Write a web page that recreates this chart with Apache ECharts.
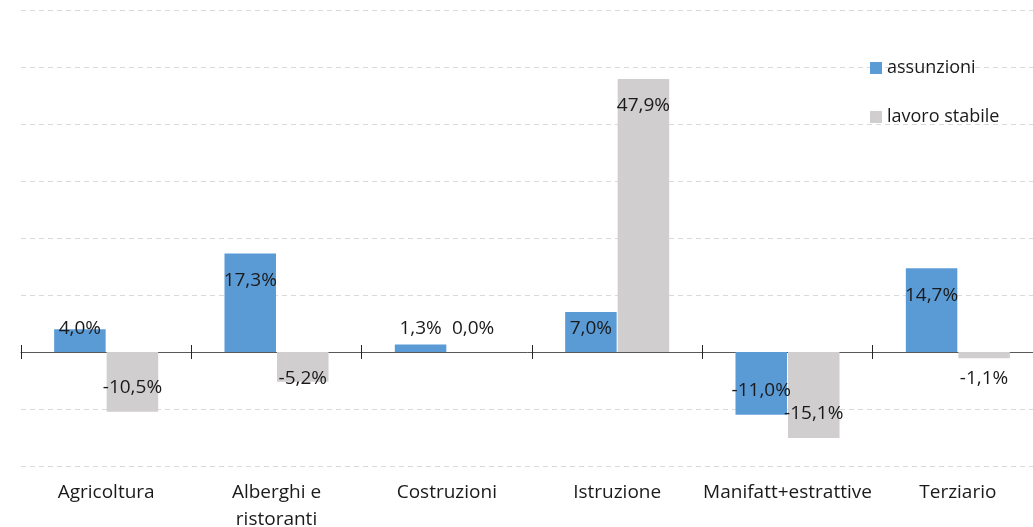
<!DOCTYPE html>
<html>
<head>
<meta charset="utf-8">
<title>assunzioni e lavoro stabile</title>
<script src="https://cdn.jsdelivr.net/npm/echarts@6/dist/echarts.min.js"></script>
<style>
  html, body { margin: 0; padding: 0; background: #ffffff; }
  #chart { width: 1033px; height: 527px; }
</style>
</head>
<body>
<div id="chart"></div>
<script>
// dati
var categories = ['Agricoltura', 'Alberghi e\nristoranti', 'Costruzioni', 'Istruzione', 'Manifatt+estrattive', 'Terziario'];
var assunzioni = [4.0, 17.3, 1.3, 7.0, -11.0, 14.7];
var lavoroStabile = [-10.5, -5.2, 0.0, 47.9, -15.1, -1.1];
var seriesNames = ['assunzioni', 'lavoro stabile'];

var FONT = '"Open Sans", sans-serif';
var TEXT = '#1a1a1a';
var FS = 19;

function fmt(v) {
  return v.toFixed(1).replace('.', ',') + '%';
}

// posizione etichette come in Excel: dentro la fine della barra, ma mai sopra l'asse
function placeLabel(params) {
  var all = [assunzioni, lavoroStabile];
  var v = all[params.seriesIndex][params.dataIndex];
  var r = params.rect;
  var top = Math.min(r.y, r.y + r.height);
  var bottom = Math.max(r.y, r.y + r.height);
  var cy;
  if (v >= 0) {
    cy = Math.min(top + 27, bottom - 23);
  } else {
    cy = Math.max(bottom - 24, top + 27);
  }
  return {
    x: r.x + r.width / 2,
    y: cy,
    align: 'center',
    verticalAlign: 'middle'
  };
}

var chart = echarts.init(document.getElementById('chart'));

var labelStyle = {
  show: true,
  formatter: function (p) { return fmt(p.value); },
  fontFamily: FONT,
  fontSize: FS,
  color: TEXT
};

var option = {
  animation: false,
  textStyle: { fontFamily: FONT },
  grid: {
    left: 21,
    top: 10,
    width: 1022,
    bottom: 61,
    containLabel: false,
    outerBoundsMode: 'none'
  },
  legend: {
    data: seriesNames,
    orient: 'vertical',
    left: 870,
    top: 56,
    padding: 0,
    itemWidth: 12,
    itemHeight: 12,
    itemGap: 25,
    icon: 'rect',
    textStyle: {
      fontFamily: FONT,
      fontSize: 18,
      color: TEXT,
      lineHeight: 24
    }
  },
  xAxis: [
    {
      // etichette in basso
      type: 'category',
      data: categories,
      position: 'bottom',
      axisLine: { show: false, onZero: false },
      axisTick: { show: false },
      axisLabel: {
        margin: 13,
        fontFamily: FONT,
        fontSize: FS,
        lineHeight: 27,
        color: TEXT,
        interval: 0
      }
    },
    {
      // linea dello zero e tacche verso il basso
      type: 'category',
      data: categories,
      position: 'bottom',
      axisLine: { show: true, onZero: true, onZeroAxisIndex: 0, lineStyle: { color: '#595959', width: 1 } },
      axisTick: { show: true, inside: false, length: 7, lineStyle: { color: '#262626' } },
      axisLabel: { show: false }
    },
    {
      // tacche verso l'alto
      type: 'category',
      data: categories,
      position: 'bottom',
      axisLine: { show: false, onZero: true, onZeroAxisIndex: 0 },
      axisTick: { show: true, inside: true, length: 7, lineStyle: { color: '#262626' } },
      axisLabel: { show: false }
    }
  ],
  yAxis: {
    type: 'value',
    min: -20,
    max: 60,
    interval: 10,
    axisLine: { show: false },
    axisTick: { show: false },
    axisLabel: { show: false },
    splitLine: {
      show: true,
      lineStyle: { color: '#d9d9d9', width: 1, type: [5, 4] }
    }
  },
  series: [
    {
      name: seriesNames[0],
      type: 'bar',
      xAxisIndex: 0,
      data: assunzioni,
      barWidth: 51.5,
      barGap: '2%',
      itemStyle: { color: '#5b9bd5' },
      label: labelStyle,
      labelLayout: placeLabel
    },
    {
      name: seriesNames[1],
      type: 'bar',
      xAxisIndex: 0,
      data: lavoroStabile,
      barWidth: 51.5,
      barGap: '2%',
      itemStyle: { color: '#d0cece' },
      label: labelStyle,
      labelLayout: placeLabel
    }
  ]
};

chart.setOption(option);
</script>
</body>
</html>
